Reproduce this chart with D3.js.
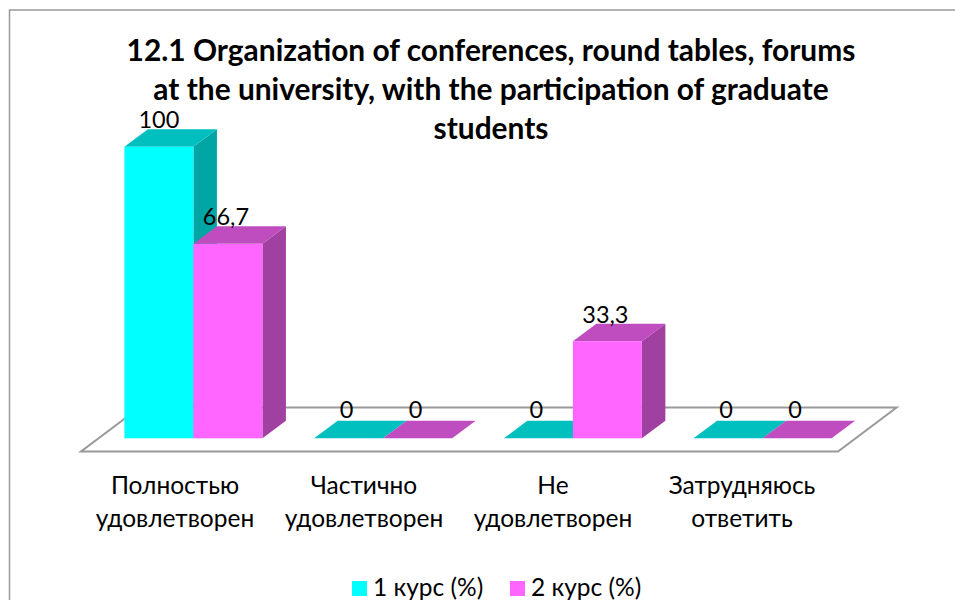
<!DOCTYPE html>
<html><head><meta charset="utf-8">
<script src="https://cdn.jsdelivr.net/npm/d3@7/dist/d3.min.js"></script>
<style>html,body{margin:0;padding:0;background:#fff;overflow:hidden}svg{display:block}text{font-family:Lato,"Open Sans",sans-serif;fill:#000}</style>
</head><body><svg id="c" width="955" height="600"></svg>
<script>
const categories=[["Полностью","удовлетворен"],["Частично","удовлетворен"],["Не","удовлетворен"],["Затрудняюсь","ответить"]];
const seriesNames=["1 курс (%)","2 курс (%)"];
const course1=[100,0,0,0];
const course2=[66.7,0,33.3,0];
const labels1=["100","0","0","0"];
const labels2=["66,7","0","33,3","0"];
const titleLines=["12.1 Organization of conferences, round tables, forums","at the university, with the participation of graduate","students"];
const colors=[{front:"#00ffff",top:"#00bfbf",side:"#00a6a6"},{front:"#ff66ff",top:"#bf4dbf",side:"#a040a0"}];
const svg=d3.select("#c");
const x=d3.scaleBand().domain(d3.range(4)).range([98.6,857.4]).paddingInner(0.2725).paddingOuter(0.136);
const xLabel=d3.scalePoint().domain(d3.range(4)).range([175,742]);
const y=d3.scaleLinear().domain([0,100]).range([438.3,146.8]);
const dx=23.5,dy=-17.5;
const fdx=58.6,fdy=-44,fl=81,fr=838,fy=451.5;
svg.append("rect").attr("x",9.5).attr("y",10).attr("width",1000).attr("height",1000).attr("fill","#fff").attr("stroke","#999").attr("stroke-width",1.5);
svg.append("path").attr("d",d3.line()([[fl+fdx,fy+fdy],[fr+fdx,fy+fdy],[fr,fy],[fl,fy]])+"Z").attr("fill","#fff").attr("stroke","#999").attr("stroke-width",2);
const bw=x.bandwidth()/2;
const poly=(p,f)=>svg.append("path").attr("d",d3.line()(p)+"Z").attr("fill",f);
function bar(i,s,v){
  const X=x(i)+s*bw,Y=y(v),B=y(0),c=colors[s];
  if(v>0){poly([[X+bw,Y],[X+bw+dx,Y+dy],[X+bw+dx,B+dy],[X+bw,B]],c.side);}
  poly([[X,Y],[X+dx,Y+dy],[X+bw+dx,Y+dy],[X+bw,Y]],c.top);
  if(v>0)svg.append("rect").attr("x",X).attr("y",Y).attr("width",bw).attr("height",B-Y).attr("fill",c.front);
}
[course1,course2].forEach((vals,s)=>vals.forEach((v,i)=>bar(i,s,v)));
const lab=(i,s,v,t)=>svg.append("text").attr("x",x(i)+(s+.5)*bw-(v===100?0:2)).attr("y",y(v)+dy-(v>0?1:2.5)).attr("text-anchor","middle").attr("font-size",23.5).text(t);
[[course1,labels1],[course2,labels2]].forEach(([vals,l],s)=>vals.forEach((v,i)=>lab(i,s,v,l[i])));
categories.forEach((c,i)=>c.forEach((t,j)=>svg.append("text").attr("x",xLabel(i)).attr("y",493.5+j*33.5).attr("text-anchor","middle").attr("font-size",24.5).text(t)));
titleLines.forEach((t,j)=>svg.append("text").attr("x",491).attr("y",61+j*39).attr("text-anchor","middle").attr("font-size",29.9).attr("font-weight",700).text(t));
[352,510].forEach((lx,i)=>{svg.append("rect").attr("x",lx).attr("y",581).attr("width",15).attr("height",15).attr("fill",colors[i].front);
svg.append("text").attr("x",lx+21).attr("y",596).attr("font-size",24.5).text(seriesNames[i]);});
</script></body></html>
